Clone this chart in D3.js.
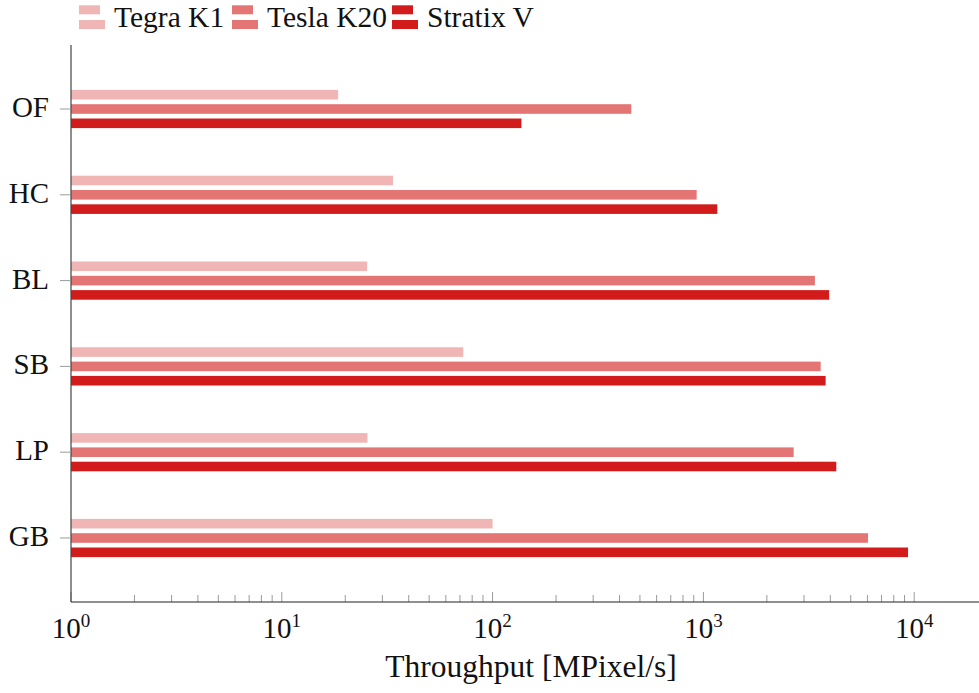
<!DOCTYPE html>
<html>
<head>
<meta charset="utf-8">
<script src="https://cdn.jsdelivr.net/npm/d3@7"></script>
<style>
  html, body { margin: 0; padding: 0; background: #fff; }
  svg text { font-family: "Liberation Serif", "DejaVu Serif", serif; fill: #111; }
</style>
</head>
<body>
<svg id="chart" width="979" height="693"></svg>
<script>
// Benchmarks, listed top to bottom
const categories = ["OF", "HC", "BL", "SB", "LP", "GB"];
// Throughput per platform, MPixel/s
const tegraK1  = [18.5, 33.7, 25.4, 72.6, 25.5, 100];
const teslaK20 = [455, 929, 3380, 3600, 2680, 6040];
const stratixV = [137, 1164, 3950, 3800, 4270, 9350];
const seriesNames = ["Tegra K1", "Tesla K20", "Stratix V"];
const seriesColors = ["#f0b5b5", "#e37574", "#d21c1c"];
const majorTicks = [1, 10, 100, 1000, 10000];
const tickExponents = ["0", "1", "2", "3", "4"];
const xLabel = "Throughput [MPixel/s]";

const series = [tegraK1, teslaK20, stratixV];
const svg = d3.select("#chart");

const plotLeft = 71, plotRight = 979, plotTop = 45, plotBottom = 602;
const decade = 210.8;
const x = d3.scaleLog()
  .domain([1, Math.pow(10, (plotRight - plotLeft) / decade)])
  .range([plotLeft, plotRight]);

const y = d3.scalePoint().domain(categories).range([plotTop, plotBottom]).padding(0.746);
const inner = d3.scaleBand().domain(seriesNames).range([-19.1, 19.1]).paddingInner(0.33);

// bars
series.forEach((vals, si) => {
  svg.append("g").selectAll("rect")
    .data(vals)
    .join("rect")
    .attr("x", x(1))
    .attr("y", (d, i) => y(categories[i]) + inner(seriesNames[si]))
    .attr("width", d => x(d) - x(1))
    .attr("height", inner.bandwidth())
    .attr("fill", seriesColors[si]);
});

// minor ticks (2..9 per decade) and major ticks, drawn inward
const minor = [];
for (let e = 0; e < 4; e++) for (let m = 2; m <= 9; m++) minor.push(m * Math.pow(10, e));
svg.append("g").selectAll("line").data(minor).join("line")
  .attr("x1", d => x(d)).attr("x2", d => x(d))
  .attr("y1", plotBottom).attr("y2", plotBottom - 7)
  .attr("stroke", "#9a9a9a").attr("stroke-width", 1);
svg.append("g").selectAll("line").data(majorTicks).join("line")
  .attr("x1", d => x(d)).attr("x2", d => x(d))
  .attr("y1", plotBottom).attr("y2", plotBottom - 10)
  .attr("stroke", "#9a9a9a").attr("stroke-width", 1);

// tick labels 10^n
const tl = svg.append("g").selectAll("text").data(majorTicks).join("text")
  .attr("x", d => x(d))
  .attr("y", 638)
  .attr("text-anchor", "middle")
  .style("font-size", "29px");
tl.append("tspan").text("10");
tl.append("tspan").attr("dy", -11).style("font-size", "19px").text((d, i) => tickExponents[i]);

// axis lines
svg.append("line").attr("x1", plotLeft).attr("x2", plotRight).attr("y1", plotBottom).attr("y2", plotBottom)
  .attr("stroke", "#222").attr("stroke-width", 1.2);
svg.append("line").attr("x1", plotLeft).attr("x2", plotLeft).attr("y1", plotTop).attr("y2", plotBottom)
  .attr("stroke", "#444").attr("stroke-width", 1.2);

// category ticks and labels
svg.append("g").selectAll("line").data(categories).join("line")
  .attr("x1", plotLeft - 11).attr("x2", plotLeft)
  .attr("y1", d => y(d)).attr("y2", d => y(d))
  .attr("stroke", "#9a9a9a").attr("stroke-width", 1);
svg.append("g").selectAll("text").data(categories).join("text")
  .attr("x", 49)
  .attr("y", d => y(d) + 8)
  .attr("text-anchor", "end")
  .style("font-size", "29px")
  .text(d => d);

// x axis title
svg.append("text")
  .attr("x", 531).attr("y", 677)
  .attr("text-anchor", "middle")
  .style("font-size", "31.5px")
  .text(xLabel);

// legend
const legendX = [79, 232, 392];
const lg = svg.append("g").selectAll("g").data(seriesNames).join("g")
  .attr("transform", (d, i) => `translate(${legendX[i]},0)`);
lg.append("rect").attr("x", 0).attr("y", 5.3).attr("width", 21).attr("height", 9)
  .attr("fill", (d, i) => seriesColors[i]);
lg.append("rect").attr("x", 0).attr("y", 20).attr("width", 26).attr("height", 9)
  .attr("fill", (d, i) => seriesColors[i]);
lg.append("text").attr("x", 35).attr("y", 26.7)
  .style("font-size", "29.5px")
  .text(d => d);
</script>
</body>
</html>
